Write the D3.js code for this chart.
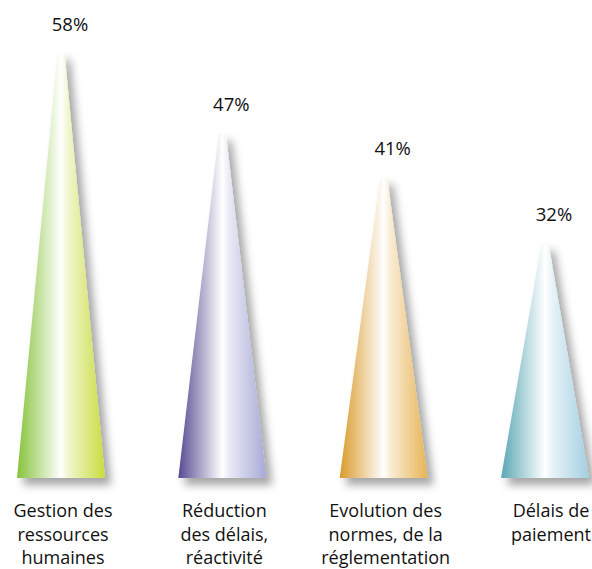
<!DOCTYPE html>
<html><head><meta charset="utf-8">
<script src="https://cdn.jsdelivr.net/npm/d3@7"></script>
<style>html,body{margin:0;padding:0;background:#fff;} svg{display:block;}</style>
</head><body>
<script>
const categories = [["Gestion des","ressources","humaines"],["Réduction","des délais,","réactivité"],["Evolution des","normes, de la","réglementation"],["Délais de","paiement"]];
const values = [58, 47, 41, 32];
const valueLabels = ["58%","47%","41%","32%"];
const leftColors = ["#86c23a","#574a92","#d99a2c","#5aa7b4"];
const rightColors = ["#c9dc3e","#a7a9d6","#e7b454","#a3cfe2"];

const W = 592, H = 569;
const svg = d3.select("body").append("svg").attr("width", W).attr("height", H);
const defs = svg.append("defs");

const f = defs.append("filter").attr("id","sh").attr("x","-30%").attr("y","-10%").attr("width","170%").attr("height","130%");
f.append("feDropShadow").attr("dx",6).attr("dy",7).attr("stdDeviation",4).attr("flood-color","#000").attr("flood-opacity",0.35);

values.forEach((v,i)=>{
  const g = defs.append("linearGradient").attr("id","g"+i).attr("x1","0").attr("x2","1").attr("y1","0").attr("y2","0");
  g.append("stop").attr("offset","0%").attr("stop-color",leftColors[i]);
  g.append("stop").attr("offset","30%").attr("stop-color",d3.interpolateRgb(leftColors[i],"#fff")(0.6));
  g.append("stop").attr("offset","50%").attr("stop-color","#ffffff");
  g.append("stop").attr("offset","58%").attr("stop-color",d3.interpolateRgb(rightColors[i],"#fff")(0.75));
  g.append("stop").attr("offset","100%").attr("stop-color",rightColors[i]);
});

const idx = values.map((d,i)=>i);
const x = d3.scalePoint().domain(idx).range([61, 545]);
const y = d3.scaleLinear().domain([0, 60]).range([478, 478 - 60*7.33]);

const baseHalf = 44, topHalf = 3.5;

svg.selectAll("path.cone").data(values).join("path")
  .attr("class","cone")
  .attr("d",(d,i)=>{
    const cx = x(i), yb = y(0), yt = y(d);
    return `M${cx-baseHalf},${yb} L${cx-topHalf},${yt} L${cx+topHalf},${yt} L${cx+baseHalf},${yb} Z`;
  })
  .attr("fill",(d,i)=>`url(#g${i})`)
  .attr("filter","url(#sh)");

svg.selectAll("text.val").data(values).join("text")
  .attr("class","val")
  .attr("x",(d,i)=>x(i)+9)
  .attr("y",d=>y(d)-22)
  .attr("text-anchor","middle")
  .attr("font-family","'Open Sans', sans-serif")
  .attr("font-size",18.5)
  .attr("fill","#111")
  .text((d,i)=>valueLabels[i]);

const cat = svg.selectAll("text.cat").data(categories).join("text")
  .attr("class","cat")
  .attr("text-anchor","middle")
  .attr("font-family","'Open Sans', sans-serif")
  .attr("font-size",18)
  .attr("fill","#111");
cat.each(function(lines,i){
  d3.select(this).selectAll("tspan").data(lines).join("tspan")
    .attr("x", x(i) + (i===3?6:2))
    .attr("y",(l,j)=>517 + j*23.5)
    .text(l=>l);
});
</script>
</body></html>
